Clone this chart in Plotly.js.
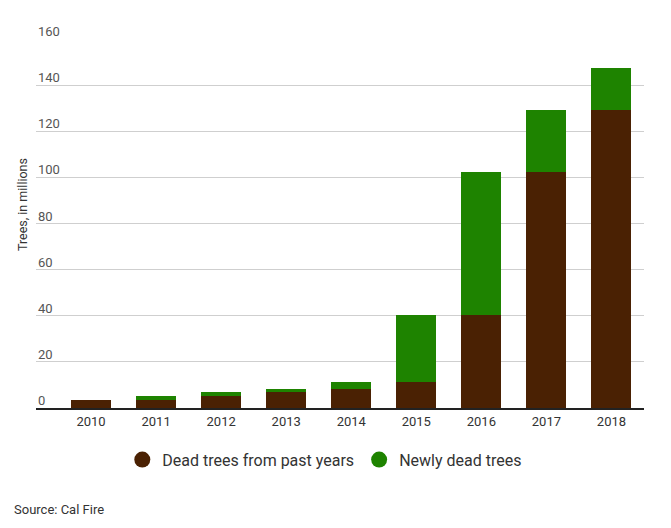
<!DOCTYPE html>
<html>
<head>
<meta charset="utf-8">
<script src="https://cdn.plot.ly/plotly-3.0.1.min.js"></script>
<style>html,body{margin:0;padding:0;background:#fff;}#chart{width:671px;height:528px;}</style>
</head>
<body>
<div id="chart"></div>
<script>
var years = ['2010','2011','2012','2013','2014','2015','2016','2017','2018'];
var deadPast = [3.3, 3.3, 5.2, 6.9, 8.2, 11.3, 40.2, 102.4, 129.4];
var newlyDead = [0, 1.9, 1.7, 1.3, 3.1, 28.9, 62.2, 27.0, 18.1];
var yTicks = [0, 20, 40, 60, 80, 100, 120, 140, 160];
var seriesNames = ['Dead trees from past years', 'Newly dead trees'];
var colors = ['#4a2103', '#1e8300'];

var FONT = 'Roboto, "Open Sans", sans-serif';
var traces = [
  {type:'bar', x:years, y:deadPast, name:seriesNames[0], marker:{color:colors[0]}, width:0.615, showlegend:false, hoverinfo:'skip'},
  {type:'bar', x:years, y:newlyDead, name:seriesNames[1], marker:{color:colors[1]}, width:0.615, showlegend:false, hoverinfo:'skip'},
  {type:'scatter', mode:'markers', x:[null], y:[null], name:seriesNames[0], marker:{color:colors[0], size:16, symbol:'circle'}},
  {type:'scatter', mode:'markers', x:[null], y:[null], name:seriesNames[1], marker:{color:colors[1], size:16, symbol:'circle'}}
];

var annotations = yTicks.map(function(v){
  return {xref:'paper', yref:'y', x:0, y:v, xanchor:'left', yanchor:'bottom', yshift:-2, text:String(v), showarrow:false,
          font:{family:FONT, size:13, color:'#555'}};
});
annotations.push({xref:'paper', yref:'paper', x:-0.023, y:0.55, textangle:-90, text:'Trees, in millions', showarrow:false,
  xanchor:'center', yanchor:'middle', font:{family:FONT, size:12.5, color:'#333'}});
annotations.push({xref:'paper', yref:'paper', x:-0.0395, y:-0.276, xanchor:'left', yanchor:'middle', text:'Source: Cal Fire', showarrow:false,
  font:{family:FONT, size:13, color:'#333'}});

var layout = {
  width:671, height:528,
  margin:{l:36, r:27, t:39, b:120},
  paper_bgcolor:'#fff', plot_bgcolor:'#fff',
  barmode:'stack',
  font:{family:FONT, color:'#333'},
  xaxis:{type:'category', range:[-0.846, 8.5], showgrid:false, showline:true, linecolor:'#222', linewidth:2,
         ticks:'', ticklabelstandoff:0, tickfont:{family:FONT, size:13, color:'#333'}, fixedrange:true},
  yaxis:{range:[0,160], tickvals:yTicks, showticklabels:false, showgrid:true, gridcolor:'#cfcfcf', gridwidth:1,
         zeroline:false, ticks:'', fixedrange:true},
  showlegend:true,
  legend:{orientation:'h', traceorder:'normal', x:0.475, xanchor:'center', y:-0.14, yanchor:'middle',
          font:{family:FONT, size:16, color:'#333'}, itemclick:false, bgcolor:'rgba(0,0,0,0)'},
  annotations:annotations
};
Plotly.newPlot('chart', traces, layout, {displayModeBar:false, staticPlot:true});
</script>
</body>
</html>
